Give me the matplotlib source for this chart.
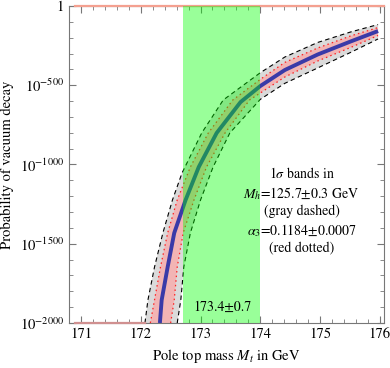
import matplotlib.pyplot as plt
import numpy as np

plt.rcParams['font.family'] = 'STIXGeneral'
plt.rcParams['mathtext.fontset'] = 'stix'

# pole top mass (GeV) vs log10 of the vacuum decay probability
mt_c = [172.32, 172.35, 172.45, 172.56, 172.75, 172.97, 173.27, 173.67, 174.00, 174.41, 174.96, 175.51, 175.97]
lp_c = [-2000, -1855, -1647, -1432, -1224, -1016, -801, -606, -505, -404, -306, -224, -158]

# gray dashed band (M_h)
mt_h_up = [172.07, 172.12, 172.23, 172.37, 172.53, 172.69, 173.02, 173.38, 174.00, 174.41, 174.96, 175.51, 175.97]
lp_h_up = [-2000, -1855, -1647, -1432, -1224, -1054, -801, -593, -421, -322, -230, -164, -117]
mt_h_dn = [172.61, 172.67, 172.72, 172.83, 173.00, 173.21, 173.49, 174.00, 174.41, 174.96, 175.51, 175.97]
lp_h_dn = [-2000, -1855, -1647, -1432, -1224, -1016, -801, -589, -488, -391, -293, -208]

# red dotted band (alpha_3)
mt_a_up = [172.16, 172.23, 172.33, 172.45, 172.61, 172.83, 173.13, 173.54, 174.00, 174.41, 174.96, 175.51, 175.97]
lp_a_up = [-2000, -1855, -1647, -1432, -1224, -1016, -801, -593, -463, -356, -265, -189, -136]
mt_a_dn = [172.50, 172.56, 172.61, 172.71, 172.89, 173.10, 173.41, 173.82, 174.00, 174.41, 174.96, 175.51, 175.97]
lp_a_dn = [-2000, -1855, -1647, -1432, -1224, -1016, -801, -593, -549, -448, -347, -262, -186]

# measured top mass band
mt_band = [172.7, 174.0]
mt_text = '173.4±0.7'

xlim = (170.9, 176.07)
ylim = (-2000, 0)
yticks = [0, -500, -1000, -1500, -2000]
ylabels = ['1', r'$10^{-500}$', r'$10^{-1000}$', r'$10^{-1500}$', r'$10^{-2000}$']

fig = plt.figure(figsize=(3.9, 3.68), dpi=100)
ax = fig.add_axes([0.177, 0.1223, 0.8077, 0.8614])

# bands as polygons: upper-left edge, then lower-right edge backwards
ax.fill(np.r_[mt_h_up, mt_h_dn[::-1]], np.r_[lp_h_up, lp_h_dn[::-1]],
        color='#dadada', lw=0, zorder=1)
ax.fill(np.r_[mt_a_up, mt_a_dn[::-1]], np.r_[lp_a_up, lp_a_dn[::-1]],
        color='#f2b4b4', lw=0, zorder=2)

ax.plot(mt_h_up, lp_h_up, color='k', lw=0.8, dashes=(4, 3), zorder=3)
ax.plot(mt_h_dn, lp_h_dn, color='k', lw=0.8, dashes=(4, 3), zorder=3)
ax.plot(mt_a_up, lp_a_up, color='#ff2020', lw=0.9, dashes=(1.2, 2.5), zorder=3)
ax.plot(mt_a_dn, lp_a_dn, color='#ff2020', lw=0.9, dashes=(1.2, 2.5), zorder=3)
ax.plot(mt_c, lp_c, color='#3a3aa8', lw=2.8, solid_capstyle='butt', zorder=4)

# clipped parts of the bands along the plot edges
ax.plot([xlim[0], xlim[1]], [0, 0], color='#f4a090', lw=1.6, clip_on=False, zorder=5)
ax.plot([xlim[0], mt_h_up[0]], [-2000, -2000], color='#d09090', lw=1.6, clip_on=False, zorder=5)

ax.axvspan(mt_band[0], mt_band[1], color=(0.0, 1.0, 0.0), alpha=0.4, lw=0, zorder=6)

ax.text(173.36, -1900, mt_text, ha='center', va='center', fontsize=10, zorder=7)
ax.text(174.69, -1293,
        '1$\\sigma$ bands in\n$M_h$=125.7±0.3 GeV\n(gray dashed)\n$\\alpha_3$=0.1184±0.0007\n(red dotted)',
        ha='center', va='center', fontsize=10, linespacing=1.3, zorder=7)

ax.set_xlim(*xlim)
ax.set_ylim(*ylim)
ax.set_xticks(np.arange(171, 177, 1))
ax.set_xticks(np.arange(170.8, 176.1, 0.2), minor=True)
ax.set_yticks(yticks)
ax.set_yticklabels(ylabels)
ax.set_yticks(np.arange(-2000, 1, 100), minor=True)
ax.tick_params(which='both', direction='in', top=True, right=True, color='#777777', labelsize=10.5)
ax.tick_params(which='major', length=5, width=0.8)
ax.tick_params(which='minor', length=3, width=0.6)
for s in ax.spines.values():
    s.set_color('#777777')
    s.set_linewidth(0.8)

ax.set_xlabel('Pole top mass $M_t$ in GeV', fontsize=10.5)
ax.set_ylabel('Probability of vacuum decay', fontsize=10.5)

fig.savefig('out.png', dpi=100)
